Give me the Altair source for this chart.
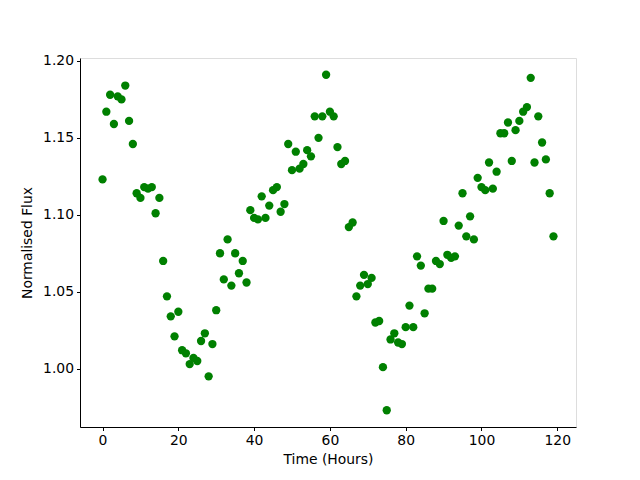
import altair as alt
import pandas as pd

hours = list(range(120))
flux = [
    1.123, 1.167, 1.178, 1.159, 1.177, 1.175, 1.184, 1.161, 1.146, 1.114,
    1.111, 1.118, 1.117, 1.118, 1.101, 1.111, 1.070, 1.047, 1.034, 1.021,
    1.037, 1.012, 1.010, 1.003, 1.007, 1.005, 1.018, 1.023, 0.995, 1.016,
    1.038, 1.075, 1.058, 1.084, 1.054, 1.075, 1.062, 1.070, 1.056, 1.103,
    1.098, 1.097, 1.112, 1.098, 1.106, 1.116, 1.118, 1.102, 1.107, 1.146,
    1.129, 1.141, 1.130, 1.133, 1.142, 1.138, 1.164, 1.150, 1.164, 1.191,
    1.167, 1.164, 1.144, 1.133, 1.135, 1.092, 1.095, 1.047, 1.054, 1.061,
    1.055, 1.059, 1.030, 1.031, 1.001, 0.973, 1.019, 1.023, 1.017, 1.016,
    1.027, 1.041, 1.027, 1.073, 1.067, 1.036, 1.052, 1.052, 1.070, 1.068,
    1.096, 1.074, 1.072, 1.073, 1.093, 1.114, 1.086, 1.099, 1.084, 1.124,
    1.118, 1.116, 1.134, 1.117, 1.128, 1.153, 1.153, 1.160, 1.135, 1.155,
    1.161, 1.167, 1.170, 1.189, 1.134, 1.164, 1.147, 1.136, 1.114, 1.086,
]
x_ticks = [0, 20, 40, 60, 80, 100, 120]
y_ticks = [1.00, 1.05, 1.10, 1.15, 1.20]

df = pd.DataFrame({"t": hours, "f": flux})

font = "DejaVu Sans"

chart = alt.Chart(df).mark_circle(size=69, color="#008000", opacity=1).encode(
    x=alt.X("t:Q", title="Time (Hours)",
            scale=alt.Scale(domain=[-5.95, 124.95], nice=False, zero=False),
            axis=alt.Axis(values=x_ticks, format="d", grid=False, tickSize=3.5,
                          labelPadding=3, titlePadding=5, domainColor="black",
                          tickColor="black", labelColor="black", titleColor="black",
                          labelFont=font, titleFont=font, labelFontSize=13.9,
                          titleFontSize=13.9, titleFontWeight="normal")),
    y=alt.Y("f:Q", title="Normalised Flux",
            scale=alt.Scale(domain=[0.9621, 1.2019], nice=False, zero=False),
            axis=alt.Axis(values=y_ticks, format=".2f", grid=False, tickSize=3.5,
                          labelPadding=3, titlePadding=8, domainColor="black",
                          tickColor="black", labelColor="black", titleColor="black",
                          labelFont=font, titleFont=font, labelFontSize=13.9,
                          titleFontSize=13.9, titleFontWeight="normal")),
).properties(
    width=496, height=369,
    autosize=alt.AutoSizeParams(type="none"),
    padding={"left": 72, "top": 50, "right": 56, "bottom": 45},
).configure_view(stroke="black", strokeWidth=1).configure(background="white")

chart.save("out.html", embed_options={"renderer": "svg", "actions": False})
